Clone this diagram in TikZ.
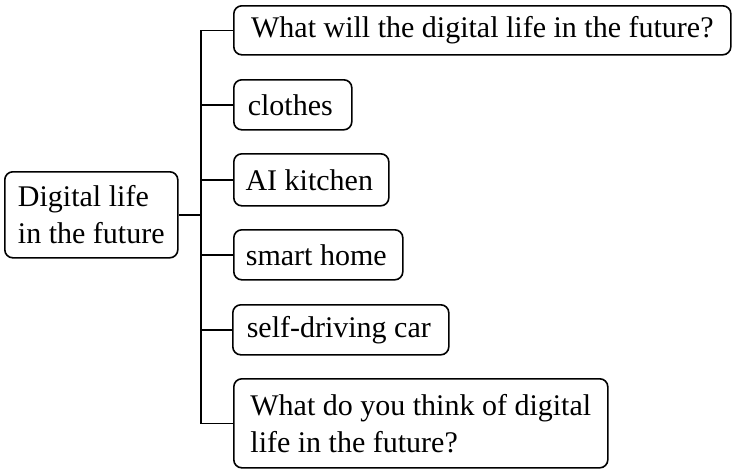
\documentclass[tikz,border=0pt]{standalone}
\usepackage{fontspec}
\setmainfont{Liberation Serif}
\begin{document}
\begin{tikzpicture}[x=1pt,y=-1pt,
  box/.style={draw, line width=1.6pt, rounded corners=8pt, anchor=north west, inner sep=0pt,
    align=left, font=\fontsize{30}{37}\selectfont},
  conn/.style={line width=1.6pt}]
\useasboundingbox (0,0) rectangle (733,474);
\node[box, minimum width=173, minimum height=86] (L) at (4,171) {Digital life\\in the future};
\node[box, minimum width=497, minimum height=49] (b1) at (233,5) {What will the digital life in the future?};
\node[box, minimum width=118, minimum height=50] (b2) at (233,79) {clothes\hspace{5pt}};
\node[box, minimum width=155, minimum height=52] (b3) at (233,153) {AI kitchen\hspace{4pt}};
\node[box, minimum width=169, minimum height=50] (b4) at (233,229) {smart home\hspace{4pt}};
\node[box, minimum width=216, minimum height=50] (b5) at (232,304) {self-driving car\hspace{4pt}};
\node[box, minimum width=374, minimum height=89] (b6) at (233,378) {What do you think of digital\\life in the future?};
\coordinate (trunk) at (201,0);
\draw[conn] (b1.west) -- (b1.west -| trunk) -- (b6.west -| trunk) -- (b6.west);
\draw[conn] (L.east) -- (L.east -| trunk);
\foreach \b in {b2,b3,b4,b5} \draw[conn] (\b.west) -- (\b.west -| trunk);
\end{tikzpicture}
\end{document}
